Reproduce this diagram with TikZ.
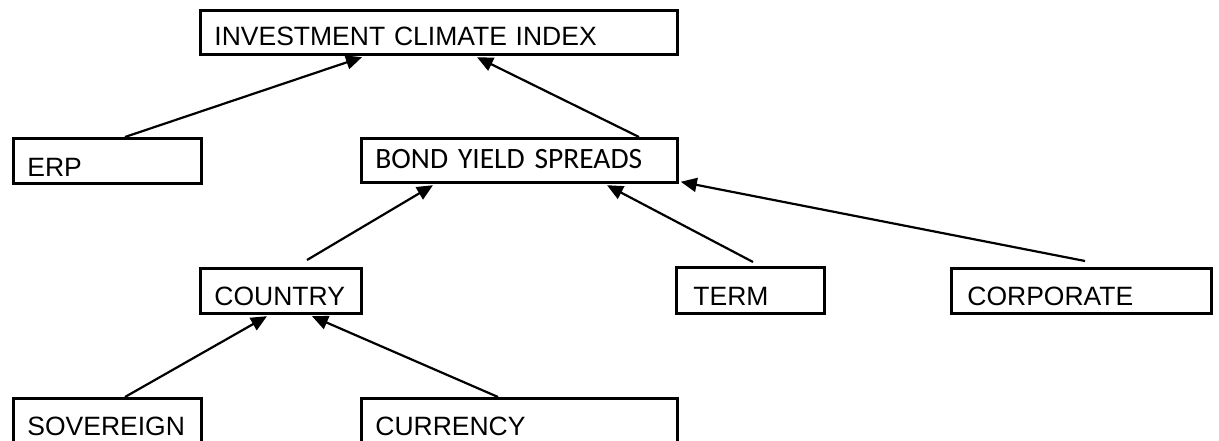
\documentclass[tikz,border=0pt]{standalone}
\usepackage{fontspec}
\usetikzlibrary{arrows.meta}
\newfontfamily\arialf{Liberation Sans}
\newfontfamily\calf{Carlito}
\tikzset{
  box/.style={draw, line width=2.8pt, anchor=north west, inner xsep=14pt, inner ysep=0pt,
    align=left, font=\arialf\fontsize{26.5}{30}\selectfont},
  link/.style={line width=2.2pt, -{Triangle[length=16pt,width=14pt]}}
}
\begin{document}
\begin{tikzpicture}[x=1pt,y=-1pt]
\clip (0,0) rectangle (1219,441);
\node[box, text width=449pt, text height=35pt, text depth=9pt] (ici) at (199,9) {INVESTMENT CLIMATE INDEX};
\node[box, text width=160pt, text height=38pt, text depth=7pt] (erp) at (12,137) {ERP};
\node[box, text width=288pt, text height=30pt, text depth=14pt, inner xsep=14pt, font=\calf\fontsize{29.5}{32}\selectfont] (bys) at (360,137) {BOND YIELD SPREADS};
\node[box, text width=133pt, text height=37pt, text depth=8pt] (country) at (199,267) {COUNTRY};
\node[box, text width=114pt, text height=38pt, text depth=8pt, inner xsep=17pt] (term) at (675,266) {TERM};
\node[box, text width=228pt, text height=37pt, text depth=8pt, inner xsep=16pt] (corp) at (950,267) {CORPORATE};
\node[box, text width=160pt, text height=37pt, text depth=8pt] (sov) at (12,397) {SOVEREIGN};
\node[box, text width=288pt, text height=37pt, text depth=8pt] (cur) at (360,397) {CURRENCY};

\draw[link] ([xshift=113pt]erp.north west) -- ([xshift=163pt,yshift=-1.4pt]ici.south west);
\draw[link] ([xshift=279pt]bys.north west) -- ([xshift=278pt,yshift=-1.4pt]ici.south west);
\draw[link] ([xshift=108pt,yshift=7pt]country.north west) -- ([xshift=73pt,yshift=-1.4pt]bys.south west);
\draw[link] ([xshift=78pt,yshift=4pt]term.north west) -- ([xshift=247pt,yshift=-1.4pt]bys.south west);
\draw[link] ([xshift=135pt,yshift=6pt]corp.north west) -- ([xshift=2pt,yshift=2pt]bys.south east);
\draw[link] ([xshift=113pt]sov.north west) -- ([xshift=68pt,yshift=-1.4pt]country.south west);
\draw[link] ([xshift=138pt]cur.north west) -- ([xshift=113pt,yshift=-1.4pt]country.south west);
\end{tikzpicture}
\end{document}
